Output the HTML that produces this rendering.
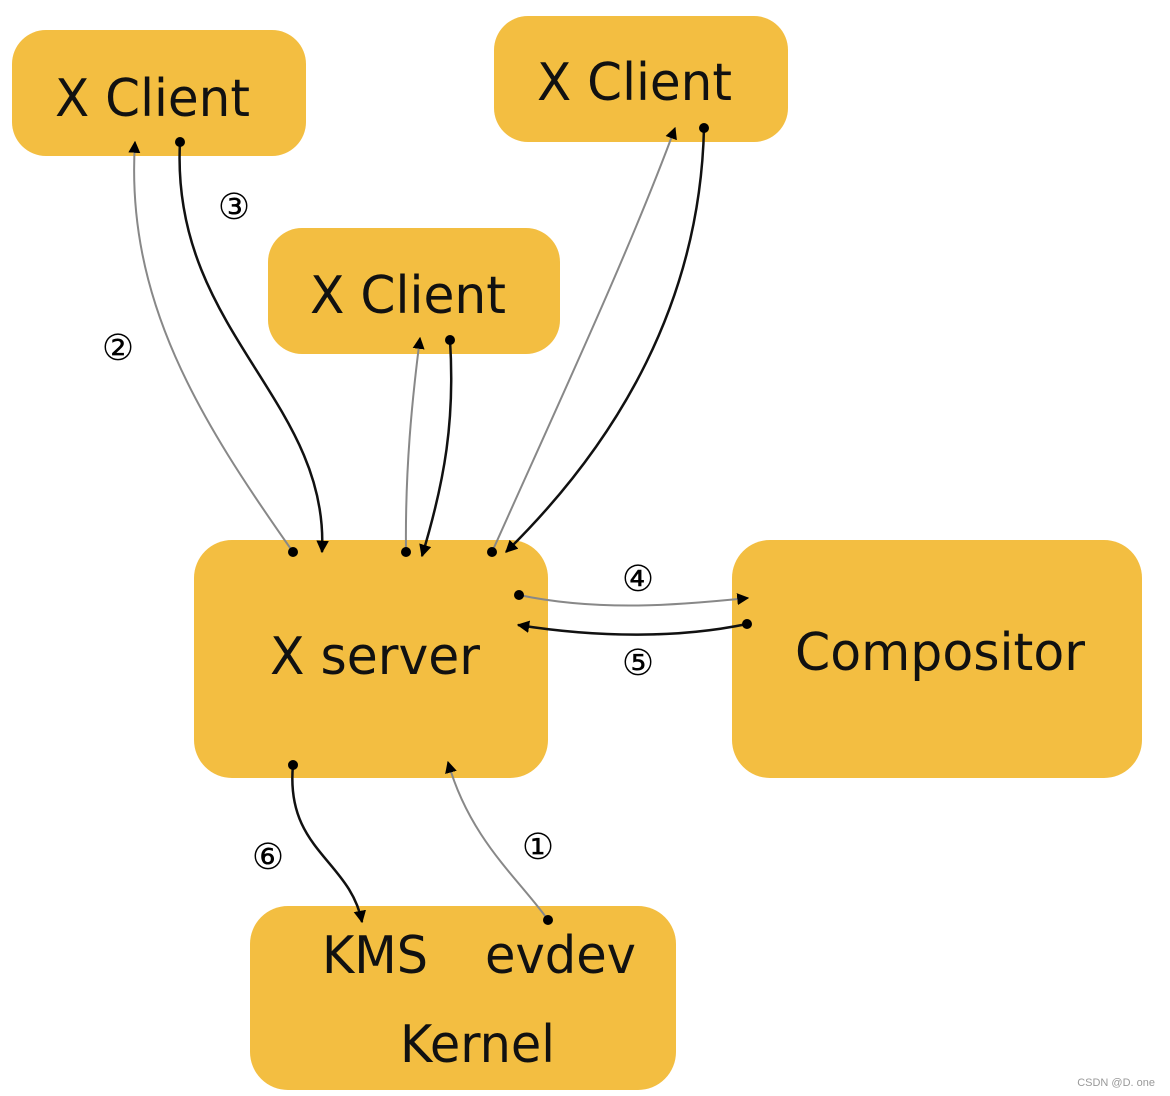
<!DOCTYPE html>
<html><head><meta charset="utf-8"><style>html,body{margin:0;padding:0;background:#fff}svg{display:block}</style></head>
<body>
<svg width="1170" height="1096" viewBox="0 0 1170 1096" xmlns="http://www.w3.org/2000/svg">
<defs>
<marker id="ab" viewBox="0 0 10 10" refX="9" refY="5" markerWidth="5" markerHeight="5" orient="auto"><path d="M0,0 L10,5 L0,10 z" fill="#000"/></marker>
<marker id="ag" viewBox="0 0 10 10" refX="9" refY="5" markerWidth="6" markerHeight="6" orient="auto"><path d="M0,0 L10,5 L0,10 z" fill="#000"/></marker>
</defs>
<g fill="#f3be41">
<rect x="12" y="30" width="294" height="126" rx="34"/>
<rect x="494" y="16" width="294" height="126" rx="34"/>
<rect x="268" y="228" width="292" height="126" rx="34"/>
<rect x="194" y="540" width="354" height="238" rx="38"/>
<rect x="732" y="540" width="410" height="238" rx="38"/>
<rect x="250" y="906" width="426" height="184" rx="38"/>
</g>
<g font-family="'DejaVu Sans','Liberation Sans',sans-serif" font-size="52" fill="#111">
<text x="55" y="116" textLength="195" lengthAdjust="spacingAndGlyphs">X Client</text>
<text x="537" y="100" textLength="195" lengthAdjust="spacingAndGlyphs">X Client</text>
<text x="310" y="313" textLength="196" lengthAdjust="spacingAndGlyphs">X Client</text>
<text x="270" y="674" textLength="210" lengthAdjust="spacingAndGlyphs">X server</text>
<text x="795" y="670" textLength="290" lengthAdjust="spacingAndGlyphs">Compositor</text>
<text x="322" y="973" textLength="106" lengthAdjust="spacingAndGlyphs">KMS</text>
<text x="485" y="973" textLength="151" lengthAdjust="spacingAndGlyphs">evdev</text>
<text x="400" y="1062" textLength="155" lengthAdjust="spacingAndGlyphs">Kernel</text>
</g>
<g fill="none">
<path d="M293,552 C200,420 125,300 135,142" stroke="#888" stroke-width="2" marker-end="url(#ag)"/>
<path d="M180,142 C170,330 330,400 322,552" stroke="#111" stroke-width="2.5" marker-end="url(#ab)"/>
<path d="M406,552 C405,470 412,400 420,338" stroke="#888" stroke-width="2" marker-end="url(#ag)"/>
<path d="M450,340 C455,420 445,480 422,556" stroke="#111" stroke-width="2.5" marker-end="url(#ab)"/>
<path d="M492,552 C560,400 630,250 675,128" stroke="#888" stroke-width="2" marker-end="url(#ag)"/>
<path d="M704,128 C700,300 620,440 506,552" stroke="#111" stroke-width="2.5" marker-end="url(#ab)"/>
<path d="M519,595 C600,612 680,605 748,598" stroke="#888" stroke-width="2" marker-end="url(#ag)"/>
<path d="M747,624 C680,638 600,638 518,625" stroke="#111" stroke-width="2.5" marker-end="url(#ab)"/>
<path d="M293,765 C285,850 350,860 362,922" stroke="#111" stroke-width="2.5" marker-end="url(#ab)"/>
<path d="M548,920 C520,880 470,840 448,762" stroke="#888" stroke-width="2" marker-end="url(#ag)"/>
</g>
<g fill="#000">
<circle cx="180" cy="142" r="5"/><circle cx="293" cy="552" r="5"/>
<circle cx="450" cy="340" r="5"/><circle cx="406" cy="552" r="5"/>
<circle cx="704" cy="128" r="5"/><circle cx="492" cy="552" r="5"/>
<circle cx="519" cy="595" r="5"/><circle cx="747" cy="624" r="5"/>
<circle cx="293" cy="765" r="5"/><circle cx="548" cy="920" r="5"/>
</g>
<g font-family="'DejaVu Sans',sans-serif" font-size="36" fill="#000" text-anchor="middle">
<text x="234" y="219">③</text>
<text x="118" y="360">②</text>
<text x="638" y="591">④</text>
<text x="638" y="675">⑤</text>
<text x="268" y="869">⑥</text>
<text x="538" y="859">①</text>
</g>
<text x="1155" y="1086" font-family="'Liberation Sans',sans-serif" font-size="11" fill="#999" text-anchor="end">CSDN @D. one</text>
</svg>
</body></html>
